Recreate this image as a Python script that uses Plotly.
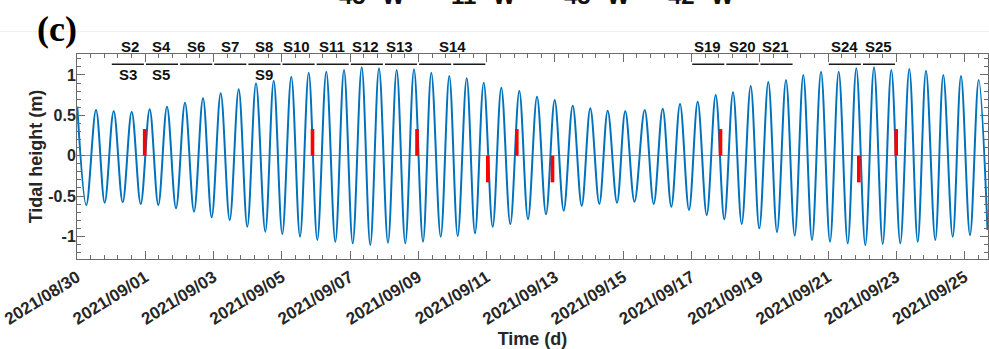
import pandas as pd
import plotly.graph_objects as go

START = pd.Timestamp("2021-08-30")
DAY_MS = 86400000

# High / low water: time (days since 2021-08-30 00:00) and height (m)
ext_days = [0.009, 0.272, 0.557, 0.811, 1.075, 1.339, 1.602, 1.866, 2.129, 2.381,
            2.636, 2.900, 3.163, 3.427, 3.691, 3.945, 4.209, 4.473, 4.736, 4.988,
            5.243, 5.515, 5.762, 6.013, 6.277, 6.532, 6.787, 7.039, 7.302, 7.566,
            7.821, 8.076, 8.339, 8.591, 8.846, 9.109, 9.364, 9.616, 9.871, 10.135,
            10.378, 10.653, 10.905, 11.151, 11.415, 11.658, 11.913, 12.176, 12.428, 12.692,
            12.956, 13.210, 13.474, 13.738, 13.992, 14.256, 14.520, 14.783, 15.035, 15.299,
            15.545, 15.817, 16.060, 16.330, 16.628, 16.892, 17.156, 17.408, 17.663, 17.926,
            18.181, 18.445, 18.708, 18.960, 19.215, 19.470, 19.733, 19.985, 20.249, 20.504,
            20.767, 21.022, 21.274, 21.529, 21.793, 22.056, 22.311, 22.575, 22.827, 23.090,
            23.345, 23.600, 23.852, 24.115, 24.379, 24.625, 24.868, 25.140, 25.375, 25.650,
            25.893, 26.157, 26.412, 26.669]
ext_height = [0.61, -0.611, 0.566, -0.582, 0.554, -0.578, 0.546, -0.598, 0.574, -0.611,
              0.607, -0.652, 0.657, -0.694, 0.711, -0.764, 0.773, -0.797, 0.823, -0.88,
              0.897, -0.942, 0.929, -0.97, 0.979, -1.004, 1.029, -1.045, 1.041, -1.066,
              1.062, -1.086, 1.095, -1.107, 1.083, -1.078, 1.062, -1.086, 1.071, -1.066,
              1.029, -1.004, 0.988, -0.995, 0.959, -0.962, 0.905, -0.88, 0.843, -0.846,
              0.802, -0.788, 0.731, -0.726, 0.69, -0.681, 0.62, -0.62, 0.587, -0.598,
              0.558, -0.582, 0.554, -0.57, 0.566, -0.598, 0.582, -0.632, 0.641, -0.673,
              0.669, -0.735, 0.752, -0.788, 0.786, -0.846, 0.864, -0.9, 0.913, -0.946,
              0.938, -0.991, 1.0, -1.045, 1.041, -1.066, 1.041, -1.086, 1.083, -1.107,
              1.095, -1.094, 1.062, -1.086, 1.074, -1.066, 1.053, -1.045, 1.0, -1.004,
              0.988, -0.983, 0.938, -0.92]

# Red markers: time (days since start) and height (m)
bar_days = [1.983, 6.898, 9.959, 12.033, 12.882, 13.928, 18.849, 22.900, 23.995]
bar_height = [0.33, 0.33, 0.33, -0.33, 0.33, -0.33, 0.33, -0.33, 0.33]

# Survey segments (start day since start)
seg_start_days = [1, 2, 3, 4, 5, 6, 7, 8, 9, 10, 11, 18, 19, 20, 22, 23]
seg_len_days = 0.94

upper_labels = ["S2", "S4", "S6", "S7", "S8", "S10", "S11", "S12", "S13", "S14",
                "S19", "S20", "S21", "S24", "S25"]
upper_days = [1.56, 2.47, 3.49, 4.48, 5.48, 6.44, 7.47, 8.46, 9.46, 10.99,
              18.47, 19.50, 20.45, 22.47, 23.47]
lower_labels = ["S3", "S5", "S9"]
lower_days = [1.48, 2.45, 5.48]

lon_labels = ["45° W", "11° W", "45° W", "42° W"]
lon_days = [8.655, 11.892, 15.217, 18.277]


def to_t(d):
    return START + pd.to_timedelta(d, unit="D")


FONT = "Liberation Sans"
AX = "#6b6b6b"
TXT = "#262626"

fig = go.Figure()

fig.add_trace(go.Scatter(
    x=[to_t(d) for d in ext_days], y=ext_height, mode="lines",
    line=dict(color="#0072BD", width=2, shape="spline", smoothing=1),
    hoverinfo="skip", showlegend=False))

# segment lines
sx, sy = [], []
for d in seg_start_days:
    sx += [to_t(d + 0.02), to_t(d + 0.02 + seg_len_days), None]
    sy += [1.133, 1.133, None]
fig.add_trace(go.Scatter(x=sx, y=sy, mode="lines",
                         line=dict(color="#1a1a1a", width=1.6),
                         hoverinfo="skip", showlegend=False))

shapes = []
hw = 0.053
for d, h in zip(bar_days, bar_height):
    shapes.append(dict(type="rect", xref="x", yref="y",
                       x0=to_t(d - hw).isoformat(), x1=to_t(d + hw).isoformat(),
                       y0=0, y1=h, fillcolor="#ff0000", line=dict(width=0),
                       layer="above"))
shapes.append(dict(type="line", xref="paper", yref="paper", x0=-0.0845, x1=1.01,
                   y0=1.1098, y1=1.1098, line=dict(color="#f0f0f0", width=1)))

ann = []
for lab, d in zip(upper_labels, upper_days):
    ann.append(dict(x=to_t(d), y=1.0356, xref="x", yref="paper", text=lab, showarrow=False,
                    xanchor="center", yanchor="middle",
                    font=dict(family=FONT, size=15, color="#111", weight="bold")))
for lab, d in zip(lower_labels, lower_days):
    ann.append(dict(x=to_t(d), y=1.0, xref="x", yref="y", text=lab, showarrow=False,
                    xanchor="center", yanchor="middle",
                    font=dict(family=FONT, size=15, color="#111", weight="bold")))
for lab, d in zip(lon_labels, lon_days):
    ann.append(dict(x=to_t(d), y=1.286, xref="x", yref="paper", text=lab, showarrow=False,
                    xanchor="center", yanchor="middle",
                    font=dict(family=FONT, size=24, color="#111", weight="bold")))
ann.append(dict(x=-0.0223, y=1.122, xref="paper", yref="paper", text="(c)",
                showarrow=False, xanchor="center", yanchor="middle",
                font=dict(family="Liberation Serif", size=36, color="#000", weight="bold")))

fig.update_layout(
    width=989, height=349,
    margin=dict(l=77, r=1, t=54, b=90, autoexpand=False),
    paper_bgcolor="white", plot_bgcolor="white",
    showlegend=False,
    shapes=shapes, annotations=ann,
    xaxis=dict(
        type="date", automargin=False,
        range=[START, to_t(26.684)],
        tickformat="%Y/%m/%d", tick0="2021-08-30", dtick=2 * DAY_MS,
        tickangle=-32, ticks="inside", ticklen=8, tickwidth=1, tickcolor=AX,
        ticklabelstandoff=1,
        showline=True, linecolor=AX, linewidth=1, mirror="ticks",
        showgrid=False, zeroline=False,
        minor=dict(dtick=0.4 * DAY_MS, tick0="2021-08-30", ticks="inside",
                   ticklen=4, tickcolor=AX, showgrid=False),
        tickfont=dict(family=FONT, size=17, color=TXT, weight="bold"),
        title=dict(text="Time (d)", standoff=4,
                   font=dict(family=FONT, size=18, color=TXT, weight="bold")),
    ),
    yaxis=dict(
        automargin=False,
        range=[-1.28, 1.26],
        tickvals=[-1, -0.5, 0, 0.5, 1], ticktext=["-1", "-0.5", "0", "0.5", "1"],
        ticks="inside", ticklen=8, tickwidth=1, tickcolor=AX,
        ticklabelstandoff=-3,
        showline=True, linecolor=AX, linewidth=1, mirror="ticks",
        showgrid=False,
        zeroline=True, zerolinecolor="#6aa6da", zerolinewidth=1,
        minor=dict(dtick=0.1, tick0=0, ticks="inside", ticklen=4, tickcolor=AX,
                   showgrid=False),
        tickfont=dict(family=FONT, size=16, color=TXT, weight="bold"),
        title=dict(text="Tidal height (m)", standoff=0,
                   font=dict(family=FONT, size=18, color=TXT, weight="bold")),
    ),
)

fig.write_html("out.html")
